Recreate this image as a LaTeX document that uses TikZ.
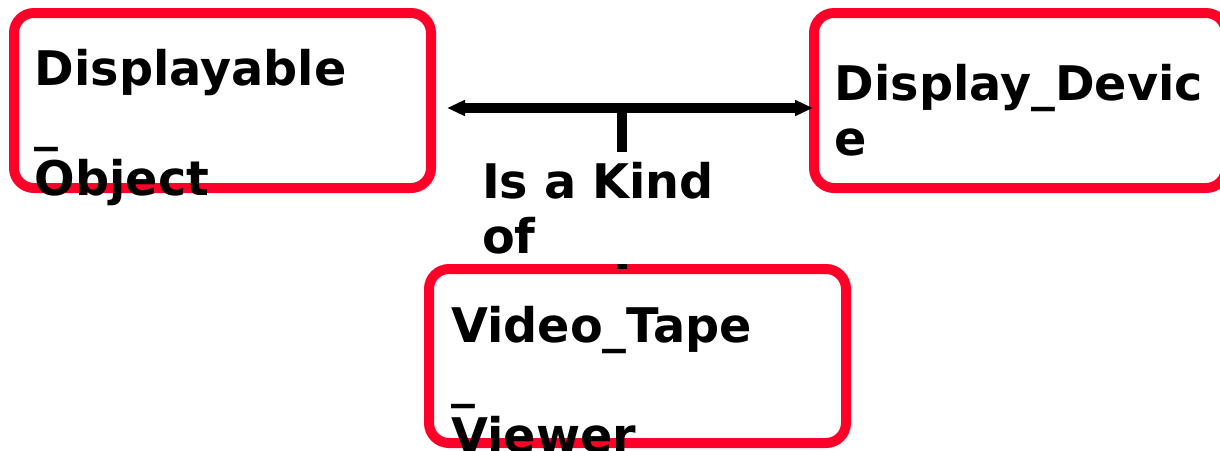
\documentclass[tikz,border=0pt]{standalone}
\usepackage{fontspec}
\setmainfont{DejaVu Sans}
\usetikzlibrary{arrows.meta}
\definecolor{boxred}{RGB}{255,0,41}
\tikzset{
  classbox/.style={draw=boxred, line width=10pt, rounded corners=20pt, fill=none, outer sep=0pt, inner sep=0pt},
  classtxt/.style={font={\fontsize{47.7}{55}\selectfont\bfseries}, align=left, inner sep=0pt, anchor=base west},
  relline/.style={line width=10pt, black},
  reltip/.style={{Triangle[length=18pt,width=15pt]}-{Triangle[length=18pt,width=15pt]}},
  rellabel/.style={font={\fontsize{47.7}{55}\selectfont\bfseries}, align=left, fill=white, inner sep=0pt, text width=281pt, minimum height=112pt, anchor=north west}
}
\begin{document}
\begin{tikzpicture}[x=1pt,y=1pt]
\useasboundingbox (0,0) rectangle (1220,-450);
% boxes
\node[classbox, minimum width=417pt, minimum height=175pt] (disp) at (222.5,-100.5) {};
\node[classbox, minimum width=412pt, minimum height=175pt] (dev) at (1020,-100.5) {};
\node[classbox, minimum width=417pt, minimum height=174pt] (vtv) at (637.5,-356) {};
% connectors
\coordinate (hub) at (622,-108);
\draw[relline, reltip, shorten <=16pt, shorten >=1pt] (disp.east |- hub) -- (dev.west |- hub);
\draw[relline] (hub) -- (hub |- vtv.north);
% relation label
\node[rellabel] (kind) at (482,-152) {Is a Kind\\of};
% texts (anchored at the baseline of the last line)
\node[classtxt] (dispt) at (34.5,-195) {Displayable\\\_\\Object};
\node[classtxt] (devt) at (834.5,-155) {Display\_Devic\\e};
\node[classtxt] (vtvt) at (451,-452) {Video\_Tape\\\_\\Viewer};
\end{tikzpicture}
\end{document}
